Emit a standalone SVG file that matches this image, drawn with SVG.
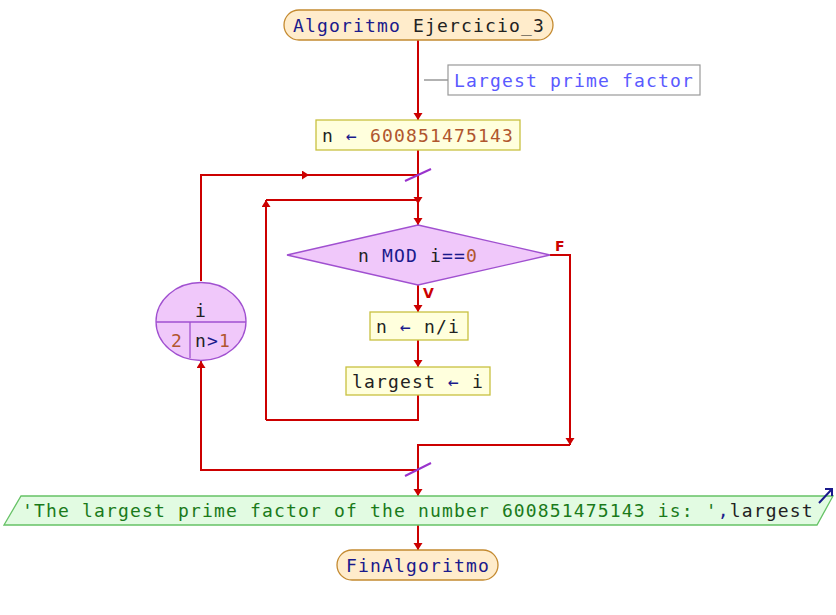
<svg xmlns="http://www.w3.org/2000/svg" width="836" height="615" viewBox="0 0 836 615">
<style>
text{font-family:"DejaVu Sans Mono","Liberation Mono",monospace;font-size:18px;letter-spacing:1.16px;fill:#222}
.kw{fill:#1a1a8c}.num{fill:#b0562e}.str{fill:#1a7a1a}.cm{fill:#5a5aff}
.term{fill:#ffeccb;stroke:#c48a30;stroke-width:1.3}
.proc{fill:#ffffdd;stroke:#c8c040;stroke-width:1.3}
.dec{fill:#f0c8fa;stroke:#a050d0;stroke-width:1.3}
.out{fill:#e2fbe2;stroke:#66c266;stroke-width:1.3}
.flow{fill:none;stroke:#cc0000;stroke-width:2}
.slash{stroke:#9933cc;stroke-width:2}
.lbl{font-family:"DejaVu Sans","Liberation Sans",sans-serif;font-size:14px;font-weight:bold;fill:#cc0000;letter-spacing:0}
</style>
<defs>
<marker id="ah" markerUnits="userSpaceOnUse" markerWidth="10" markerHeight="10" refX="7" refY="4.5" orient="auto">
<path d="M0,0 L7,4.5 L0,9 z" fill="#cc0000"/>
</marker>
</defs>
<g id="connectors">
<path class="flow" d="M418,40 V120" marker-end="url(#ah)"/>
<path class="flow" d="M418,150 V204" marker-end="url(#ah)"/>
<path class="flow" d="M418,204 V225" marker-end="url(#ah)"/>
<path class="flow" d="M201,281 V175 H309" marker-end="url(#ah)"/>
<path class="flow" d="M309,175 H418"/>
<path class="flow" d="M418,285 V312" marker-end="url(#ah)"/>
<path class="flow" d="M418,340 V367" marker-end="url(#ah)"/>
<path class="flow" d="M418,395 V420 H266"/>
<path class="flow" d="M266,420 V200" marker-end="url(#ah)"/>
<path class="flow" d="M266,200 H418"/>
<path class="flow" d="M550,255 H570 V445" marker-end="url(#ah)"/>
<path class="flow" d="M570,445 H418 V496" marker-end="url(#ah)"/>
<path class="flow" d="M418,470 H201 V361" marker-end="url(#ah)"/>
<path class="flow" d="M418,525 V550" marker-end="url(#ah)"/>
<line class="slash" x1="405" y1="181" x2="431" y2="169"/>
<line class="slash" x1="405" y1="476" x2="431" y2="463"/>
<path d="M424,80 H448" stroke="#999" stroke-width="1.5" fill="none"/>
<text class="lbl" x="555" y="251">F</text>
<text class="lbl" x="423" y="298">V</text>
</g>
<g id="start">
<rect class="term" x="284" y="10" width="269" height="30" rx="15"/>
<text x="293" y="31.5"><tspan class="kw">Algoritmo</tspan> Ejercicio_3</text>
</g>
<g id="comment">
<rect x="448" y="65" width="252" height="30" fill="#fff" stroke="#999" stroke-width="1.2"/>
<text class="cm" x="454" y="86.5">Largest prime factor</text>
</g>
<g id="assign1">
<rect class="proc" x="316" y="120" width="204" height="30"/>
<text x="322" y="141.5">n <tspan class="kw">←</tspan> <tspan class="num">600851475143</tspan></text>
</g>
<g id="loopFor">
<ellipse class="dec" cx="201" cy="321.5" rx="45" ry="39"/>
<line x1="156" y1="322" x2="246" y2="322" stroke="#a050d0" stroke-width="1.3"/>
<line x1="190" y1="322" x2="190" y2="358" stroke="#a050d0" stroke-width="1.3"/>
<text x="195" y="317">i</text>
<text class="num" x="171" y="347">2</text>
<text x="195" y="347">n<tspan class="kw">&gt;</tspan><tspan class="num">1</tspan></text>
</g>
<g id="decision">
<polygon class="dec" points="418,225 550,255 418,285 287,255"/>
<text x="358" y="261.5">n <tspan class="kw">MOD</tspan> i<tspan class="kw">==</tspan><tspan class="num">0</tspan></text>
</g>
<g id="assign2">
<rect class="proc" x="370" y="312" width="98" height="28"/>
<text x="376" y="332.5">n <tspan class="kw">←</tspan> n/i</text>
</g>
<g id="assign3">
<rect class="proc" x="346" y="367" width="144" height="28"/>
<text x="352" y="387.5">largest <tspan class="kw">←</tspan> i</text>
</g>
<g id="output">
<polygon class="out" points="21,496 833,496 817,525 4,525"/>
<text x="22" y="517"><tspan class="str">'The largest prime factor of the number 600851475143 is: '</tspan><tspan class="kw">,</tspan>largest</text>
<path d="M819,503 L832,489 M825,489 H832 V496" stroke="#1a1a8c" stroke-width="2" fill="none"/>
</g>
<g id="end">
<rect class="term" x="337" y="550" width="161" height="30" rx="15"/>
<text class="kw" x="346" y="571.5">FinAlgoritmo</text>
</g>
</svg>
